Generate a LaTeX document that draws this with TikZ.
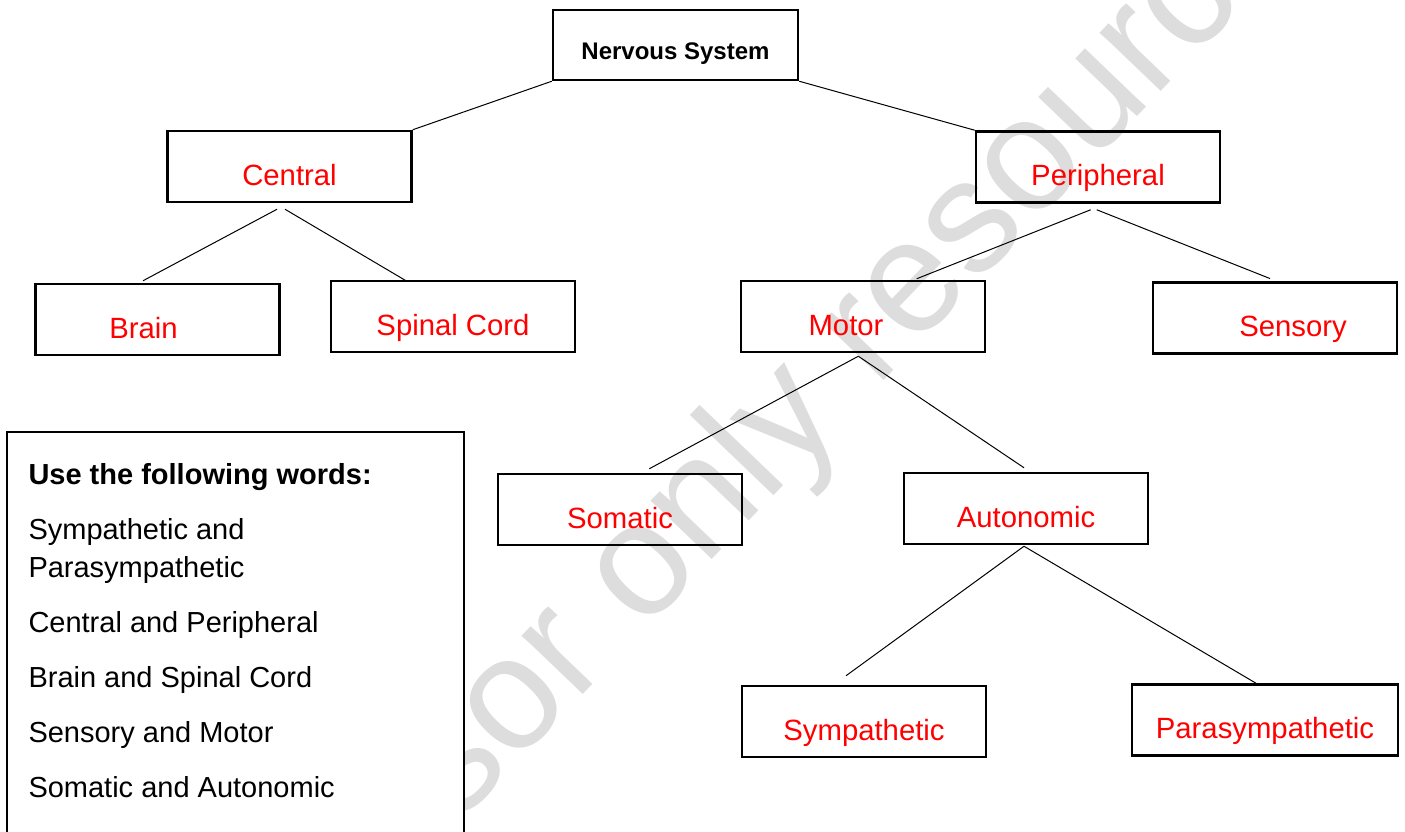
\documentclass[tikz,border=0pt]{standalone}
\usepackage{fontspec}
\setmainfont{Liberation Sans}
\usetikzlibrary{calc}
\definecolor{lbl}{RGB}{255,0,0}
\definecolor{wmgray}{RGB}{221,221,221}
\begin{document}
\begin{tikzpicture}[x=1pt,y=-1pt,
  box/.style={draw, line width=2.5pt, minimum width=244pt, inner sep=0pt,
    text height=54pt, text depth=17pt, text=lbl,
    font=\fontsize{29.3}{35}\selectfont},
  link/.style={line width=1pt},
  legendtext/.style={anchor=base west, inner sep=0pt, font=\fontsize{29}{35}\selectfont},
  wm/.style={text=wmgray, font=\fontsize{160}{160}\selectfont, inner sep=0pt}]
\useasboundingbox (0,0) rectangle (1405,832);
\clip (0,0) rectangle (1405,832);
% watermark
\node[wm, anchor=base west, rotate=46.2] (wmark) at (138.4,1158.4) {Professor only resources};
% boxes
\node[box, text=black, minimum width=245pt, text height=49.3pt, text depth=20.7pt,
  font=\fontsize{24}{28}\selectfont\bfseries] (ns) at (675.5,45) {Nervous System};
\node[box] (central) at (289.5,166.5) {Central};
\node[box] (peripheral) at (1098,167) {Peripheral};
\node[box] (brain) at (157.5,319.5) {Brain\hspace*{28pt}};
\node[box] (spinal) at (453,316.5) {Spinal Cord};
\node[box] (motor) at (863,316.5) {Motor\hspace*{34pt}};
\node[box] (sensory) at (1275,318) {\hspace*{36pt}Sensory};
\node[box] (somatic) at (620,509.5) {Somatic};
\node[box] (autonomic) at (1026,508.5) {Autonomic};
\node[box] (symp) at (864,721.5) {Sympathetic};
\node[box, minimum width=266pt] (para) at (1265,720) {Parasympathetic};
% legend
\node[draw, fill=white, line width=1.5pt, minimum width=457.3pt, minimum height=430pt,
  anchor=north west, inner sep=0pt] (legend) at (6,431) {};
\node[legendtext, font=\fontsize{29}{35}\selectfont\bfseries] (lt0) at (28.3,484.3) {Use the following words:};
\node[legendtext] (lt1) at (28.3,539.3) {Sympathetic and};
\node[legendtext] (lt2) at (28.3,577.3) {Parasympathetic};
\node[legendtext] (lt3) at (28.3,632.7) {Central and Peripheral};
\node[legendtext] (lt4) at (28.3,687.7) {Brain and Spinal Cord};
\node[legendtext] (lt5) at (28.3,742.7) {Sensory and Motor};
\node[legendtext] (lt6) at (28.3,797.7) {Somatic and Autonomic};
% connectors
\draw[link] (ns.south west) -- (central.north east);
\draw[link] (ns.south east) -- (peripheral.north west);
\draw[link] ($(central.south)+(-12.5,6)$) -- ($(brain.north)+(-14.5,-2)$);
\draw[link] ($(central.south)+(-4.5,6)$) -- ($(spinal.north)+(-47,1)$);
\draw[link] ($(peripheral.south)+(-7.3,6)$) -- ($(motor.north)+(53.7,-1)$);
\draw[link] ($(peripheral.south)+(-1.3,6)$) -- ($(sensory.north)+(-5,-2.7)$);
\draw[link] ($(motor.south)+(-4.7,3)$) -- ($(somatic.north)+(29.3,-4)$);
\draw[link] ($(motor.south)+(-4.7,3)$) -- ($(autonomic.north)+(-2,-4)$);
\draw[link] ($(autonomic.south)+(-2,1)$) -- ($(symp.north)+(-18,-9)$);
\draw[link] ($(autonomic.south)+(-2,1)$) -- ($(para.north)+(-9,0)$);
\end{tikzpicture}
\end{document}
